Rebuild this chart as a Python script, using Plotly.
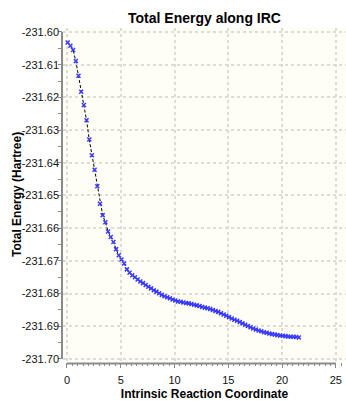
import plotly.graph_objects as go

irc = [0.07, 0.32, 0.57, 0.82, 1.07, 1.32, 1.57, 1.82, 2.07, 2.32,
       2.57, 2.82, 3.07, 3.32, 3.57, 3.82, 4.07, 4.32, 4.57, 4.82,
       5.07, 5.32, 5.57, 5.82, 6.07, 6.32, 6.57, 6.82, 7.07, 7.32,
       7.57, 7.82, 8.07, 8.32, 8.57, 8.82, 9.07, 9.32, 9.57, 9.82,
       10.07, 10.32, 10.57, 10.82, 11.07, 11.32, 11.57, 11.82, 12.07, 12.32,
       12.57, 12.82, 13.07, 13.32, 13.57, 13.82, 14.07, 14.32, 14.57, 14.82,
       15.07, 15.32, 15.57, 15.82, 16.07, 16.32, 16.57, 16.82, 17.07, 17.32,
       17.57, 17.82, 18.07, 18.32, 18.57, 18.82, 19.07, 19.32, 19.57, 19.82,
       20.07, 20.32, 20.57, 20.82, 21.07, 21.32, 21.57]

energy = [-231.6032, -231.6042, -231.6055, -231.6089, -231.6134, -231.6183, -231.6223, -231.6270, -231.6329, -231.6377,
          -231.6421, -231.6472, -231.6525, -231.6560, -231.6582, -231.6610, -231.6627, -231.6642, -231.6664, -231.6683,
          -231.6696, -231.6708, -231.6726, -231.6736, -231.6744, -231.6750, -231.6757, -231.6763, -231.6768, -231.6774,
          -231.6779, -231.6784, -231.6790, -231.6794, -231.6799, -231.6804, -231.6808, -231.6811, -231.6814, -231.6818,
          -231.6821, -231.6824, -231.6825, -231.6827, -231.6829, -231.6830, -231.6832, -231.6834, -231.6836, -231.6838,
          -231.6841, -231.6843, -231.6845, -231.6847, -231.6850, -231.6853, -231.6856, -231.6860, -231.6864, -231.6868,
          -231.6872, -231.6876, -231.6880, -231.6883, -231.6887, -231.6891, -231.6895, -231.6899, -231.6903, -231.6907,
          -231.6910, -231.6913, -231.6915, -231.6918, -231.6920, -231.6922, -231.6924, -231.6925, -231.6927, -231.6928,
          -231.6929, -231.6930, -231.6931, -231.6932, -231.6932, -231.6933, -231.6934]

x_ticks = [0, 5, 10, 15, 20, 25]
y_ticks = [-231.60, -231.61, -231.62, -231.63, -231.64, -231.65, -231.66, -231.67, -231.68, -231.69, -231.70]
y_minor = [-231.600, -231.605, -231.610, -231.615, -231.620, -231.625, -231.630, -231.635, -231.640, -231.645,
           -231.650, -231.655, -231.660, -231.665, -231.670, -231.675, -231.680, -231.685, -231.690, -231.695, -231.700]

FONT = "Liberation Sans, Arial, sans-serif"
W, H = 346, 401
L, R, T, B = 63, 0, 28, 39
PW, PH = W - L - R, H - T - B

fig = go.Figure()
fig.add_trace(go.Scatter(
    x=irc, y=energy, mode="lines+markers",
    line=dict(color="black", width=1, dash="3px,2px"),
    marker=dict(symbol="x-thin", size=4, color="#3a3aff",
                line=dict(color="#3a3aff", width=1.5)),
    showlegend=False, hoverinfo="x+y"))

axis_gray = "#8a8a8a"
fig.update_layout(
    width=W, height=H,
    margin=dict(l=L, r=R, t=T, b=B),
    paper_bgcolor="white", plot_bgcolor="#fefef4",
    font=dict(family=FONT, size=11, color="#111"),
    title=dict(text="<b>Total Energy along IRC</b>", x=(L + (W - R)) / 2 / W, xanchor="center",
               y=1 - 18 / H, yanchor="middle", font=dict(size=14, color="black")),
    xaxis=dict(range=[-0.37, 25.95], tickvals=x_ticks, ticktext=[str(v) for v in x_ticks],
               showgrid=True, gridcolor="#dcdcd2", gridwidth=2, griddash="3px,3px",
               zeroline=False, showline=False,
               ticks="outside", ticklen=5, tickwidth=1, tickcolor=axis_gray,
               ticklabelstandoff=3,
               minor=dict(dtick=0.5, ticks="outside", ticklen=3, tickcolor=axis_gray, showgrid=False),
               tickfont=dict(size=11, color="#111"),
               title=dict(text="<b>Intrinsic Reaction Coordinate</b>", standoff=5,
                          font=dict(size=12, color="black"))),
    yaxis=dict(range=[-231.70092, -231.59878], tickvals=y_ticks,
               ticktext=["%.2f" % v for v in y_ticks],
               showgrid=True, gridcolor="#dcdcd2", gridwidth=2, griddash="3px,3px",
               zeroline=False, showline=False,
               ticks="", ticklabelstandoff=3,
               minor=dict(tickvals=y_minor, ticks="outside", ticklen=4, tickcolor=axis_gray, showgrid=False),
               tickfont=dict(size=11, color="#111")),
)

fig.add_annotation(text="<b>Total Energy (Hartree)</b>", textangle=-90,
                   xref="paper", yref="paper", x=(17 - L) / PW, y=(H - B - 195) / PH,
                   xanchor="center", yanchor="middle", showarrow=False,
                   font=dict(size=12, color="black", family=FONT))

# axis lines spanning only the tick range
fig.add_shape(type="line", xref="x", yref="paper", x0=0, x1=25, y0=-1.5 / PH, y1=-1.5 / PH,
              line=dict(color=axis_gray, width=2))
fig.add_shape(type="line", xref="paper", yref="y", x0=-1 / PW, x1=-1 / PW,
              y0=-231.70, y1=-231.60, line=dict(color=axis_gray, width=2))

fig.write_html("out.html")
